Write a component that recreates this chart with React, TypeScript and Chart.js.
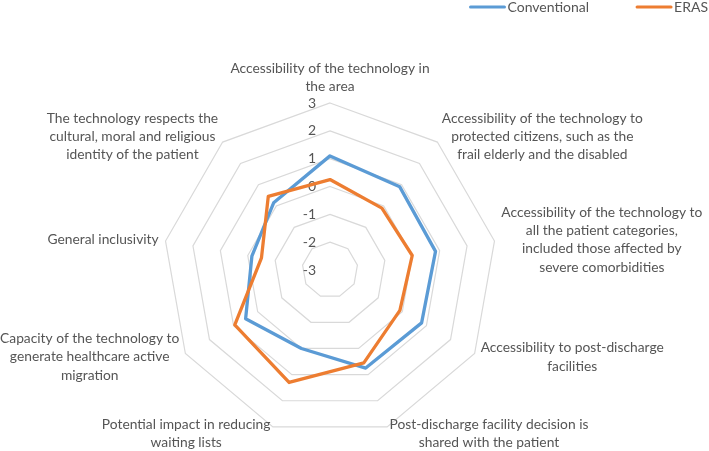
import { useEffect, useRef } from "react";
import { Chart, registerables } from "chart.js";

Chart.register(...registerables);

const categories: string[][] = [
  ["Accessibility of the technology in", "the area"],
  ["Accessibility of the technology to", "protected citizens, such as the", "frail elderly and the disabled"],
  ["Accessibility of the technology to", "all the patient categories,", "included those affected by", "severe comorbidities"],
  ["Accessibility to post-discharge", "facilities"],
  ["Post-discharge facility decision is", "shared with the patient"],
  ["Potential impact in reducing", "waiting lists"],
  ["Capacity of the technology to", "generate healthcare active", "migration"],
  ["General inclusivity"],
  ["The technology respects the", "cultural, moral and religious", "identity of the patient"],
];

const conventional = [1.1, 0.9, 0.85, 0.8, 0.75, 0.0, 0.5, -0.15, 0.15];
const eras = [0.25, -0.1, 0.0, -0.1, 0.55, 1.3, 0.95, -0.5, 0.45];

const seriesNames = ["Conventional", "ERAS"];
const seriesColors = ["#5B9BD5", "#ED7D31"];

const scaleMin = -3;
const scaleMax = 3;
const scaleStep = 1;

const FONT = "Lato, 'Noto Sans', sans-serif";
const TEXT_COLOR = "#555555";

const excelLabels = {
  id: "excelLabels",
  beforeDatasetsDraw(chart: any) {
    const ctx = chart.ctx;
    const scale = chart.scales.r;
    ctx.save();
    ctx.fillStyle = TEXT_COLOR;
    ctx.font = `14px ${FONT}`;
    ctx.textAlign = "right";
    ctx.textBaseline = "middle";
    scale.ticks.forEach((t: any) => {
      const pt = scale.getPointPositionForValue(0, t.value);
      ctx.fillText(String(t.label), pt.x - 14, pt.y);
    });
    ctx.restore();
  },
  afterDraw(chart: any) {
    const ctx = chart.ctx;
    const scale = chart.scales.r;
    ctx.save();
    ctx.fillStyle = TEXT_COLOR;
    ctx.font = `13.8px ${FONT}`;
    ctx.textAlign = "center";
    ctx.textBaseline = "middle";
    const lh = 18.3;
    (chart.data.labels as any[]).forEach((lab, i) => {
      const lines: string[] = Array.isArray(lab) ? lab : [lab];
      const p = scale.getPointPosition(i, scale.drawingArea + 7);
      const th = p.angle + Math.PI / 2;
      const s = Math.sin(th);
      const c = Math.cos(th);
      const w = Math.max(...lines.map((l) => ctx.measureText(l).width));
      const h = lines.length * lh;
      let cx = p.x;
      let cy = p.y;
      if (s > 0.05) cx = p.x + w / 2;
      else if (s < -0.05) cx = p.x - w / 2;
      if (c > 0.95) cy = p.y - h / 2;
      lines.forEach((l, k) => ctx.fillText(l, cx, cy - h / 2 + lh * (k + 0.5)));
    });

    // legend
    ctx.font = `14px ${FONT}`;
    ctx.textAlign = "left";
    const ds = chart.data.datasets;
    let x = chart.width - 1;
    const y = 7;
    for (let i = ds.length - 1; i >= 0; i--) {
      const tw = ctx.measureText(ds[i].label).width;
      const tx = x - tw;
      ctx.fillStyle = TEXT_COLOR;
      ctx.fillText(ds[i].label, tx, y);
      ctx.strokeStyle = ds[i].borderColor;
      ctx.lineWidth = 3;
      ctx.lineCap = "round";
      ctx.beginPath();
      ctx.moveTo(tx - 37, y);
      ctx.lineTo(tx - 3, y);
      ctx.stroke();
      x = tx - 37 - 48;
    }
    ctx.restore();
  },
};

export default function App() {
  const ref = useRef<HTMLCanvasElement | null>(null);
  useEffect(() => {
    if (!ref.current) return;
    const chart = new Chart(ref.current, {
      type: "radar",
      data: {
        labels: categories,
        datasets: [
          {
            label: seriesNames[0],
            data: conventional,
            borderColor: seriesColors[0],
            backgroundColor: seriesColors[0],
            borderWidth: 3.3,
            pointRadius: 0,
            pointHoverRadius: 0,
            fill: false,
            tension: 0,
            borderJoinStyle: "round",
            order: 1,
          },
          {
            label: seriesNames[1],
            data: eras,
            borderColor: seriesColors[1],
            backgroundColor: seriesColors[1],
            borderWidth: 3.3,
            pointRadius: 0,
            pointHoverRadius: 0,
            fill: false,
            tension: 0,
            borderJoinStyle: "round",
            order: 0,
          },
        ],
      },
      options: {
        animation: false,
        responsive: true,
        maintainAspectRatio: false,
        layout: { padding: { left: 163, top: 103, right: 212, bottom: 14 } },
        plugins: {
          legend: { display: false },
          tooltip: { enabled: false },
        },
        scales: {
          r: {
            min: scaleMin,
            max: scaleMax,
            ticks: { stepSize: scaleStep, display: false },
            grid: { color: "#d9d9d9", lineWidth: 1.2 },
            angleLines: { display: false },
            pointLabels: { display: false },
          },
        },
      },
      plugins: [excelLabels],
    });
    return () => chart.destroy();
  }, []);
  return (
    <div style={{ position: "fixed", left: 0, top: 0, width: 709, height: 451, background: "#fff" }}>
      <canvas ref={ref} />
    </div>
  );
}
